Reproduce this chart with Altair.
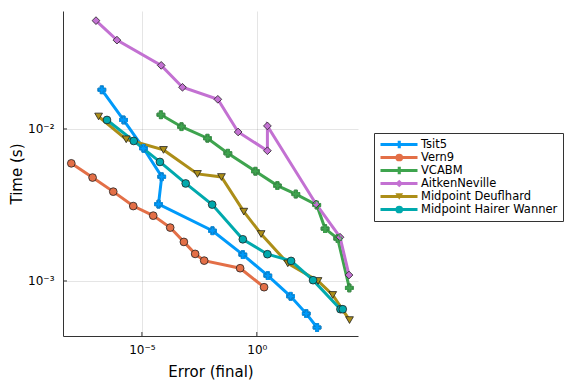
import altair as alt
import pandas as pd

methods = ["Tsit5", "Vern9", "VCABM", "AitkenNeville", "Midpoint Deuflhard", "Midpoint Hairer Wanner"]
colors = ["#009AFA", "#E36F47", "#3EA44E", "#C371D2", "#AC8E18", "#00A9AD"]
shapes = ["cross", "circle", "cross", "diamond", "triangle-down", "circle"]
cross_methods = ["Tsit5", "VCABM"]

tsit5_err = [1.8e-7, 1.58e-6, 1.17e-5, 7.26e-5, 5.27e-5, 0.01175, 0.246, 3.01, 29.5, 142, 419]
tsit5_time = [0.0181, 0.01146, 0.00746, 0.00485, 0.0032, 0.00214, 0.00149, 0.001084, 0.000793, 0.00061, 0.000494]

vern9_err = [8.43e-9, 7.11e-8, 5.65e-7, 4.19e-6, 3.10e-5, 1.70e-4, 6.70e-4, 2.07e-3, 5.12e-3, 0.188, 2.07]
vern9_time = [0.00594, 0.00479, 0.00387, 0.00311, 0.00269, 0.002245, 0.001807, 0.001507, 0.001361, 0.001213, 0.00091]

vcabm_err = [6.70e-5, 5.27e-4, 7.11e-3, 0.0548, 0.869, 7.87, 49.7, 406, 933, 3327, 10617]
vcabm_time = [0.0124, 0.01035, 0.00869, 0.00692, 0.00527, 0.00424, 0.00373, 0.00316, 0.00221, 0.0019, 0.0009]

aitken_err = [1.0e-7, 8.18e-7, 6.90e-5, 5.82e-4, 0.0201, 0.154, 2.89, 2.89, 378, 4188, 10300]
aitken_time = [0.0516, 0.0384, 0.0262, 0.0188, 0.01567, 0.00955, 0.00719, 0.01047, 0.00321, 0.00194, 0.001094]

deuf_err = [1.30e-7, 2.07e-6, 8.69e-5, 2.61e-3, 0.0289, 0.272, 1.54, 22.3, 462, 2014, 10840]
deuf_time = [0.01208, 0.00855, 0.00728, 0.00506, 0.00483, 0.002858, 0.002037, 0.001306, 0.001, 0.000809, 0.000553]

hw_err = [3.01e-7, 4.40e-6, 6.07e-5, 8.02e-4, 0.0114, 0.246, 2.89, 31.0, 281, 4370, 5500]
hw_time = [0.01146, 0.00834, 0.00607, 0.00438, 0.00318, 0.00188, 0.0015, 0.001355, 0.001012, 0.000652, 0.000652]

x_tick_vals = [1e-5, 1.0]
x_tick_labels = ["10⁻⁵", "10⁰"]
y_tick_vals = [1e-3, 1e-2]
y_tick_labels = ["10⁻³", "10⁻²"]

series = [
    (tsit5_err, tsit5_time),
    (vern9_err, vern9_time),
    (vcabm_err, vcabm_time),
    (aitken_err, aitken_time),
    (deuf_err, deuf_time),
    (hw_err, hw_time),
]
rows = []
for m, (es, ts) in zip(methods, series):
    for i, (e, t) in enumerate(zip(es, ts)):
        rows.append({"method": m, "idx": i, "err": e, "time": t})
df = pd.DataFrame(rows)

W, H = 295, 325
FONT = "DejaVu Sans"


def label_expr(vals, labels):
    expr = "''"
    for v, l in zip(vals, labels):
        expr = f"abs(log(datum.value) - log({v})) < 0.01 ? '{l}' : " + expr
    return expr


x_enc = alt.X(
    "err:Q",
    scale=alt.Scale(type="log", domain=[3.67e-9, 25350], nice=False),
    axis=alt.Axis(values=x_tick_vals, labelExpr=label_expr(x_tick_vals, x_tick_labels),
                  grid=True, ticks=False, labelPadding=8, titlePadding=9,
                  labelFontSize=12, titleFontSize=15, labelFlush=False),
    title="Error (final)",
)
y_enc = alt.Y(
    "time:Q",
    scale=alt.Scale(type="log", domain=[4.345e-4, 0.0597], nice=False),
    axis=alt.Axis(values=y_tick_vals, labelExpr=label_expr(y_tick_vals, y_tick_labels),
                  grid=True, ticks=False, labelPadding=9, titlePadding=3,
                  labelFontSize=12, titleFontSize=15, labelFlush=False),
    title="Time (s)",
)

# the line scale carries one unused extra value so that its legend is kept apart
# from the marker legend, which is drawn exactly on top of it
color_scale = alt.Scale(domain=methods + ["~"], range=colors + ["#ffffff"])

LX, LY = 311, 122

lines = alt.Chart(df).mark_line(strokeWidth=3).encode(
    x=x_enc,
    y=y_enc,
    color=alt.Color(
        "method:N",
        scale=color_scale,
        legend=alt.Legend(
            values=methods,
            orient="none", legendX=LX, legendY=LY, title=None,
            symbolType="stroke", symbolSize=1369, symbolStrokeWidth=3,
            clipHeight=13, rowPadding=0, padding=5, labelOffset=2,
            labelFontSize=11.5, labelFont=FONT, labelColor="#000",
            strokeColor="#333", fillColor="white", zindex=0,
        ),
    ),
    order="idx:Q",
)

leg_b = alt.Legend(
    orient="none", legendX=LX, legendY=LY, title=None,
    symbolSize=60, symbolStrokeWidth=0.8, symbolStrokeColor="#222",
    clipHeight=13, rowPadding=0, padding=5, labelOffset=2,
    labelFontSize=11.5, labelFont=FONT, labelExpr="''",
    symbolOffset=14.5, zindex=1,
)

points = alt.Chart(df).mark_point(filled=True, size=60, opacity=1, strokeWidth=0.8, stroke="#222").encode(
    x=x_enc,
    y=y_enc,
    fill=alt.Fill("method:N", scale=alt.Scale(domain=methods, range=colors), legend=leg_b),
    shape=alt.Shape("method:N", scale=alt.Scale(domain=methods, range=shapes), legend=leg_b),
)

cross_cover = alt.Chart(df).transform_filter(
    alt.FieldOneOfPredicate(field="method", oneOf=cross_methods)
).mark_point(filled=False, shape="cross", size=60, opacity=1, strokeWidth=1).encode(
    x=x_enc,
    y=y_enc,
    color=alt.Color("method:N", scale=color_scale, legend=None),
)

xt = alt.Chart(pd.DataFrame({"err": x_tick_vals})).mark_rule(color="#333", strokeWidth=1).encode(
    x=x_enc, y=alt.value(H), y2=alt.value(H - 4)
)
yt = alt.Chart(pd.DataFrame({"time": y_tick_vals})).mark_rule(color="#333", strokeWidth=1).encode(
    y=y_enc, x=alt.value(0), x2=alt.value(4)
)

chart = alt.layer(xt, yt, lines, points, cross_cover).properties(
    width=W, height=H,
    autosize=alt.AutoSizeParams(type="none"),
    padding={"left": 55, "top": 3, "right": 210, "bottom": 48},
).configure_view(stroke=None).configure_axis(
    labelFont=FONT, titleFont=FONT, labelColor="#000", titleColor="#000",
    domainColor="#333", gridColor="#000", gridOpacity=0.1, titleFontWeight="normal",
).configure_legend(labelFont=FONT)

chart.save("out.html", embed_options={"renderer": "svg", "actions": False})
